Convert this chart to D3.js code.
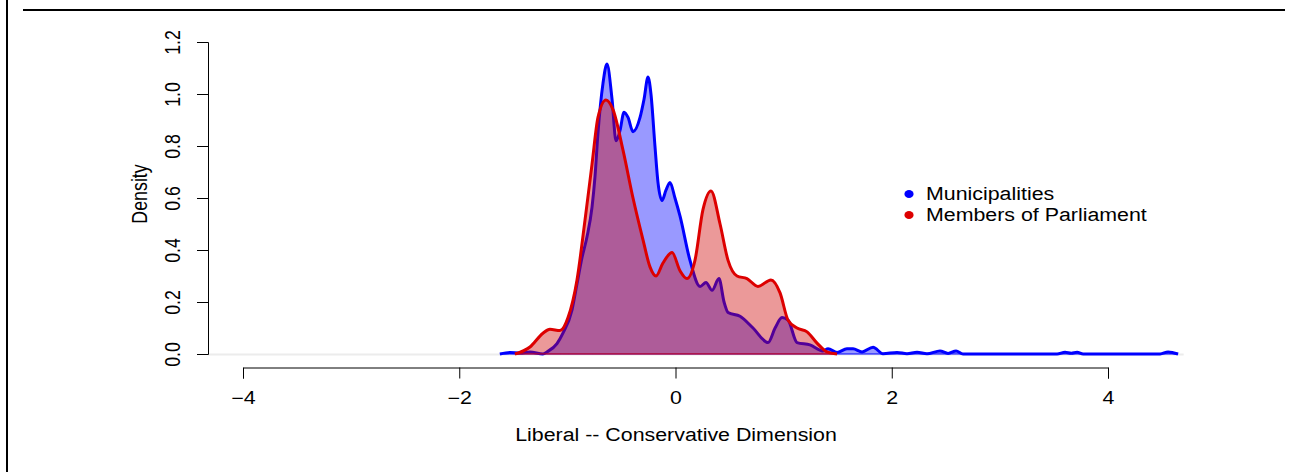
<!DOCTYPE html>
<html><head><meta charset="utf-8">
<script src="https://cdn.jsdelivr.net/npm/d3@7"></script>
<style>html,body{margin:0;padding:0;background:#fff;} svg{display:block;}</style>
</head><body>
<script>
// ---- data ----
const muniX = [-1.624,-1.531,-1.439,-1.346,-1.226,-1.189,-1.096,-1.041,-0.957,-0.911,-0.865,-0.819,-0.772,-0.745,-0.717,-0.671,-0.634,-0.587,-0.550,-0.513,-0.476,-0.439,-0.393,-0.328,-0.291,-0.254,-0.227,-0.190,-0.162,-0.125,-0.088,-0.051,-0.005,0.042,0.134,0.227,0.282,0.338,0.402,0.449,0.486,0.597,0.717,0.856,0.921,0.985,1.041,1.124,1.244,1.364,1.411,1.494,1.586,1.642,1.725,1.827,1.919,2.049,2.141,2.234,2.326,2.446,2.521,2.595,2.659,2.9,3.2,3.529,3.603,3.66,3.714,3.770,4.0,4.25,4.482,4.556,4.648];
const muniY = [0.0,0.006,0.004,0.008,0.0,0.008,0.04,0.08,0.17,0.27,0.37,0.45,0.565,0.68,0.85,1.04,1.115,0.98,0.82,0.86,0.93,0.91,0.855,0.91,0.98,1.065,1.0,0.80,0.66,0.59,0.63,0.66,0.60,0.53,0.36,0.26,0.275,0.245,0.29,0.20,0.16,0.145,0.10,0.044,0.10,0.14,0.13,0.044,0.035,0.012,0.02,0.006,0.02,0.02,0.008,0.026,0.001,0.006,0.001,0.007,0.001,0.012,0.002,0.012,0.0,0.0,0.0,0.0,0.007,0.003,0.007,0.0,0.0,0.0,0.0,0.008,0.0];
const mpX = [-1.485,-1.346,-1.226,-1.161,-1.068,-0.994,-0.911,-0.837,-0.772,-0.717,-0.643,-0.578,-0.486,-0.393,-0.301,-0.236,-0.180,-0.116,-0.032,0.042,0.106,0.180,0.254,0.328,0.412,0.486,0.569,0.661,0.763,0.883,0.967,1.041,1.124,1.217,1.309,1.401,1.494];
const mpY = [0.0,0.027,0.08,0.095,0.09,0.14,0.285,0.515,0.73,0.91,0.977,0.94,0.785,0.60,0.44,0.335,0.30,0.35,0.39,0.32,0.29,0.36,0.555,0.627,0.50,0.36,0.30,0.29,0.26,0.285,0.235,0.13,0.10,0.085,0.042,0.008,0.0];
const xTicks = [-4,-2,0,2,4];
const yTicks = [0,0.2,0.4,0.6,0.8,1.0,1.2];
const yTickLabels = ["0.0","0.2","0.4","0.6","0.8","1.0","1.2"];
const seriesNames = ["Municipalities","Members of Parliament"];
const xTitle = "Liberal -- Conservative Dimension";
const yTitle = "Density";

// ---- layout ----
const W = 1298, H = 472;
const SX = 1.2;           // horizontal stretch of text in the reference
const FS = 17.8;
const FONT = "'Liberation Sans', Arial, Helvetica, sans-serif";

const svg = d3.select("body").append("svg").attr("width", W).attr("height", H);

const x = d3.scaleLinear().domain([-4, 4]).range([243, 1108]);
const y = d3.scaleLinear().domain([0, 1.2]).range([354, 42]);

// frame lines
svg.append("line").attr("x1", 7).attr("x2", 7).attr("y1", 0).attr("y2", H)
  .attr("stroke", "#000").attr("stroke-width", 2);
svg.append("line").attr("x1", 23).attr("x2", 1285).attr("y1", 10).attr("y2", 10)
  .attr("stroke", "#000").attr("stroke-width", 2);

// light baseline
svg.append("line").attr("x1", 208).attr("x2", x(4.7)).attr("y1", y(0) + 0.5).attr("y2", y(0) + 0.5)
  .attr("stroke", "#ececec").attr("stroke-width", 2);

const curve = d3.curveMonotoneX;
const area = d3.area().x(d => x(d[0])).y0(d => y(0)).y1(d => y(d[1])).curve(curve);
const line = d3.line().x(d => x(d[0])).y(d => y(d[1])).curve(curve);

const muni = muniX.map((v, i) => [v, muniY[i]]);
const mp = mpX.map((v, i) => [v, mpY[i]]);

function drawSeries(data, fill, stroke) {
  svg.append("path").attr("d", area(data)).attr("fill", fill)
    .attr("stroke", stroke).attr("stroke-width", 1);
  svg.append("path").attr("d", line(data)).attr("fill", "none")
    .attr("stroke", stroke).attr("stroke-width", 3).attr("stroke-linejoin", "round");
}
drawSeries(muni, "rgba(0,0,255,0.4)", "#0000ff");
drawSeries(mp, "rgba(205,0,0,0.4)", "#dd0000");

// axes
const xAxis = d3.axisBottom(x).tickValues(xTicks).tickSizeOuter(0).tickSize(11)
  .tickFormat(d3.format("d"));
const gx = svg.append("g").attr("transform", "translate(0,367.5)").call(xAxis);
gx.select(".domain").attr("stroke", "#000").attr("stroke-width", 1);
gx.selectAll(".tick line").attr("stroke", "#000");
gx.selectAll(".tick text").attr("y", 0).attr("dy", null)
  .attr("font-family", FONT).attr("font-size", FS).attr("fill", "#000")
  .attr("transform", `translate(0,36) scale(${SX},1)`);

const yAxis = d3.axisLeft(y).tickValues(yTicks).tickSizeOuter(0).tickSize(11)
  .tickFormat((d, i) => yTickLabels[i]);
const gy = svg.append("g").attr("transform", "translate(208,0)").call(yAxis);
gy.select(".domain").attr("stroke", "#000").attr("stroke-width", 1);
gy.selectAll(".tick line").attr("stroke", "#000");
gy.selectAll(".tick text").attr("x", 0).attr("dy", null).attr("y", 0)
  .attr("text-anchor", "middle")
  .attr("font-family", FONT).attr("font-size", FS).attr("fill", "#000")
  .attr("transform", `translate(-28,0) scale(${SX},1) rotate(-90)`);

// axis titles
svg.append("text").text(xTitle)
  .attr("font-family", FONT).attr("font-size", FS).attr("text-anchor", "middle")
  .attr("transform", `translate(676,441) scale(${SX},1)`);
svg.append("text").text(yTitle)
  .attr("font-family", FONT).attr("font-size", FS).attr("text-anchor", "middle")
  .attr("transform", `translate(147,194) scale(${SX},1) rotate(-90)`);

// legend
const legColors = ["#0000ff", "#dd0000"];
const leg = svg.append("g");
seriesNames.forEach((n, i) => {
  const cy = 194 + i * 21;
  leg.append("ellipse").attr("cx", 909).attr("cy", cy).attr("rx", 4.6).attr("ry", 4)
    .attr("fill", legColors[i]);
  leg.append("text").text(n).attr("font-family", FONT).attr("font-size", FS)
    .attr("transform", `translate(926,${cy + 6.3}) scale(${SX},1)`);
});
</script>
</body></html>
